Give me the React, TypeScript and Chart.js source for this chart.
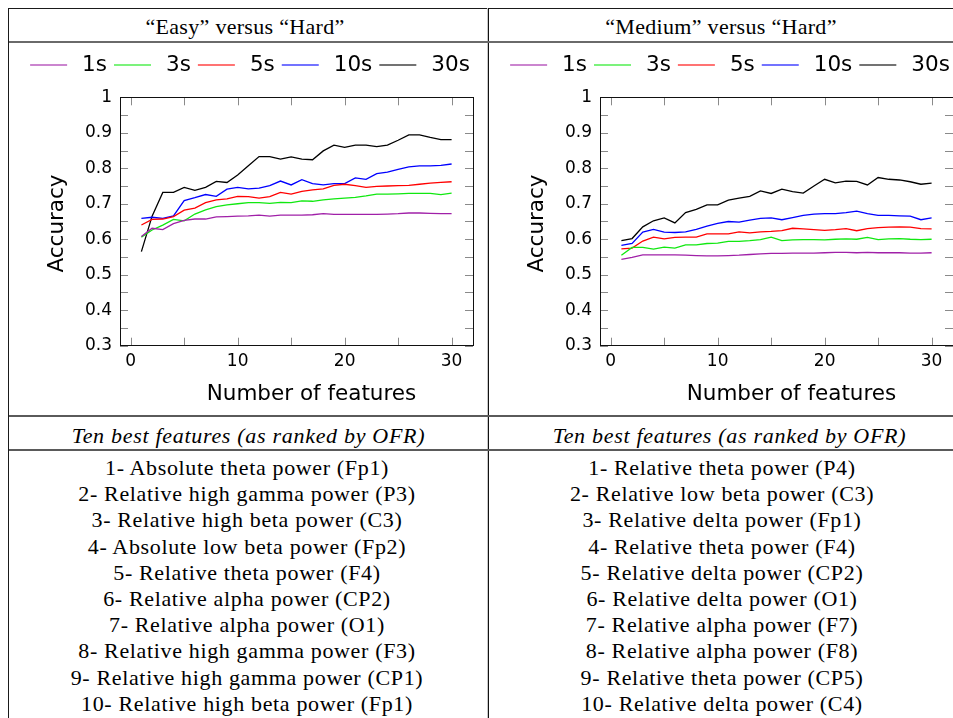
import React, { useEffect, useRef } from "react";
import { Chart, registerables } from "chart.js";

Chart.register(...registerables);

// ---------- data ----------
const FEATURES = [1, 2, 3, 4, 5, 6, 7, 8, 9, 10, 11, 12, 13, 14, 15, 16, 17, 18, 19, 20, 21, 22, 23, 24, 25, 26, 27, 28, 29, 30];
const SERIES_LABELS = ["1s", "3s", "5s", "10s", "30s"];
const SERIES_COLORS = ["#a020a8", "#10e810", "#ff0000", "#0000ff", "#000000"];

// "Easy" versus "Hard"
const EASY_1S = [0.608, 0.631, 0.627, 0.644, 0.653, 0.657, 0.657, 0.663, 0.664, 0.665, 0.666, 0.668, 0.665, 0.668, 0.668, 0.668, 0.669, 0.672, 0.670, 0.670, 0.670, 0.670, 0.670, 0.671, 0.672, 0.674, 0.674, 0.673, 0.672, 0.672];
const EASY_3S = [0.606, 0.626, 0.640, 0.656, 0.652, 0.671, 0.683, 0.692, 0.697, 0.700, 0.703, 0.703, 0.701, 0.704, 0.703, 0.708, 0.707, 0.711, 0.714, 0.716, 0.718, 0.722, 0.727, 0.727, 0.728, 0.729, 0.729, 0.729, 0.726, 0.730];
const EASY_5S = [0.640, 0.656, 0.657, 0.664, 0.682, 0.688, 0.703, 0.711, 0.714, 0.721, 0.720, 0.716, 0.720, 0.732, 0.727, 0.735, 0.739, 0.742, 0.752, 0.755, 0.751, 0.746, 0.749, 0.750, 0.751, 0.752, 0.755, 0.758, 0.760, 0.762];
const EASY_10S = [0.659, 0.662, 0.659, 0.666, 0.709, 0.717, 0.726, 0.721, 0.741, 0.746, 0.742, 0.744, 0.751, 0.764, 0.753, 0.768, 0.757, 0.753, 0.757, 0.757, 0.773, 0.769, 0.785, 0.789, 0.797, 0.804, 0.807, 0.807, 0.808, 0.812];
const EASY_30S = [0.565, 0.665, 0.732, 0.732, 0.746, 0.738, 0.746, 0.763, 0.760, 0.781, 0.807, 0.833, 0.833, 0.826, 0.832, 0.826, 0.824, 0.849, 0.865, 0.859, 0.865, 0.865, 0.861, 0.865, 0.879, 0.894, 0.894, 0.887, 0.881, 0.881];

// "Medium" versus "Hard"
const MEDIUM_1S = [0.543, 0.549, 0.556, 0.556, 0.556, 0.556, 0.555, 0.554, 0.553, 0.553, 0.554, 0.555, 0.557, 0.559, 0.560, 0.560, 0.561, 0.561, 0.561, 0.562, 0.563, 0.563, 0.562, 0.563, 0.562, 0.562, 0.562, 0.561, 0.561, 0.562];
const MEDIUM_3S = [0.555, 0.577, 0.577, 0.572, 0.578, 0.575, 0.584, 0.584, 0.588, 0.589, 0.594, 0.594, 0.596, 0.599, 0.606, 0.596, 0.598, 0.599, 0.599, 0.598, 0.600, 0.601, 0.600, 0.605, 0.599, 0.601, 0.602, 0.600, 0.599, 0.600];
const MEDIUM_5S = [0.573, 0.575, 0.595, 0.606, 0.601, 0.605, 0.606, 0.606, 0.615, 0.615, 0.615, 0.621, 0.618, 0.621, 0.622, 0.624, 0.631, 0.629, 0.627, 0.625, 0.627, 0.630, 0.624, 0.630, 0.633, 0.634, 0.635, 0.634, 0.630, 0.629];
const MEDIUM_10S = [0.583, 0.588, 0.620, 0.628, 0.620, 0.619, 0.621, 0.628, 0.637, 0.645, 0.650, 0.648, 0.654, 0.659, 0.660, 0.655, 0.661, 0.667, 0.671, 0.672, 0.672, 0.675, 0.679, 0.672, 0.667, 0.667, 0.666, 0.665, 0.655, 0.660];
const MEDIUM_30S = [0.596, 0.602, 0.635, 0.652, 0.660, 0.646, 0.675, 0.684, 0.697, 0.697, 0.710, 0.716, 0.721, 0.736, 0.729, 0.741, 0.734, 0.730, 0.750, 0.769, 0.759, 0.764, 0.763, 0.753, 0.774, 0.769, 0.767, 0.762, 0.755, 0.758];

// axes
const X_TICKS = [0, 10, 20, 30];
const X_MINOR_TICKS = [0, 5, 10, 15, 20, 25, 30];
const Y_TICKS = [0.3, 0.4, 0.5, 0.6, 0.7, 0.8, 0.9, 1];
const Y_MINOR_TICKS = [0.3, 0.35, 0.4, 0.45, 0.5, 0.55, 0.6, 0.65, 0.7, 0.75, 0.8, 0.85, 0.9, 0.95, 1];
const X_TITLE = "Number of features";
const Y_TITLE = "Accuracy";

// table text
const LEFT_HEADER = "\u201cEasy\u201d versus \u201cHard\u201d";
const RIGHT_HEADER = "\u201cMedium\u201d versus \u201cHard\u201d";
const SUB_HEADER = "Ten best features (as ranked by OFR)";
const LEFT_FEATURES = [
  "1- Absolute theta power (Fp1)",
  "2- Relative high gamma power (P3)",
  "3- Relative high beta power (C3)",
  "4- Absolute low beta power (Fp2)",
  "5- Relative theta power (F4)",
  "6- Relative alpha power (CP2)",
  "7- Relative alpha power (O1)",
  "8- Relative high gamma power (F3)",
  "9- Relative high gamma power (CP1)",
  "10- Relative high beta power (Fp1)",
];
const RIGHT_FEATURES = [
  "1- Relative theta power (P4)",
  "2- Relative low beta power (C3)",
  "3- Relative delta power (Fp1)",
  "4- Relative theta power (F4)",
  "5- Relative delta power (CP2)",
  "6- Relative delta power (O1)",
  "7- Relative alpha power (F7)",
  "8- Relative alpha power (F8)",
  "9- Relative theta power (CP5)",
  "10- Relative delta power (C4)",
];

const SANS = '"DejaVu Sans", sans-serif';
const SERIF = '"Liberation Serif", serif';

const CANVAS_W = 479;
const CANVAS_H = 373;

const framePlugin = {
  id: "frame",
  beforeDatasetsDraw(chart: any) {
    const { ctx, chartArea: a, scales } = chart;
    const x = scales.x;
    const y = scales.y;
    ctx.save();
    ctx.strokeStyle = "#8a8a8a";
    ctx.lineWidth = 1;
    const L = 8;
    ctx.beginPath();
    for (const v of X_MINOR_TICKS) {
      const px = Math.round(x.getPixelForValue(v)) + 0.5;
      ctx.moveTo(px, a.bottom);
      ctx.lineTo(px, a.bottom - L);
      ctx.moveTo(px, a.top);
      ctx.lineTo(px, a.top + L);
    }
    for (const v of Y_MINOR_TICKS) {
      const py = Math.round(y.getPixelForValue(v)) + 0.5;
      ctx.moveTo(a.left, py);
      ctx.lineTo(a.left + L, py);
      ctx.moveTo(a.right, py);
      ctx.lineTo(a.right - L, py);
    }
    ctx.stroke();
    ctx.restore();
  },
  afterDraw(chart: any) {
    const { ctx, chartArea: a } = chart;
    ctx.save();
    // frame
    ctx.strokeStyle = "#111";
    ctx.lineWidth = 1;
    ctx.strokeRect(Math.round(a.left) + 0.5, Math.round(a.top) + 0.5, Math.round(a.right - a.left), Math.round(a.bottom - a.top));
    // axis titles
    ctx.fillStyle = "#000";
    ctx.font = `21.5px ${SANS}`;
    ctx.textAlign = "center";
    ctx.textBaseline = "middle";
    ctx.fillText(X_TITLE, (a.left + a.right) / 2 + 15, a.bottom + 49);
    ctx.save();
    ctx.translate(a.left - 62.5, (a.top + a.bottom) / 2 + 2);
    ctx.rotate(-Math.PI / 2);
    ctx.fillText(Y_TITLE, 0, 0);
    ctx.restore();
    // legend
    const ds = chart.data.datasets;
    const sample = 37;
    const gap1 = 15;
    const gap2 = 7;
    const widths = ds.map((d: any) => ctx.measureText(d.label).width);
    let total = 0;
    widths.forEach((w: number) => (total += sample + gap1 + w));
    total += gap2 * (ds.length - 1);
    let lx = chart.width / 2 - total / 2 + 1.5;
    const ly = 22;
    ctx.textAlign = "left";
    ds.forEach((d: any, i: number) => {
      ctx.globalAlpha = 0.55;
      ctx.strokeStyle = SERIES_COLORS[i];
      ctx.lineWidth = 2;
      ctx.beginPath();
      ctx.moveTo(lx, ly);
      ctx.lineTo(lx + sample, ly);
      ctx.stroke();
      ctx.globalAlpha = 1;
      ctx.fillStyle = "#000";
      ctx.fillText(d.label, lx + sample + gap1, ly);
      lx += sample + gap1 + widths[i] + gap2;
    });
    ctx.restore();
  },
};

function AccuracyChart({ series, left, top }: { series: number[][]; left: number; top: number }) {
  const ref = useRef<HTMLCanvasElement>(null);
  useEffect(() => {
    const chart = new Chart(ref.current as HTMLCanvasElement, {
      type: "line",
      data: {
        datasets: SERIES_LABELS.map((label, i) => ({
          label,
          data: FEATURES.map((f, j) => ({ x: f, y: series[i][j] })),
          borderColor: SERIES_COLORS[i],
          backgroundColor: SERIES_COLORS[i],
          borderWidth: 1.3,
          pointRadius: 0,
          tension: 0,
          fill: false,
        })),
      },
      options: {
        animation: false,
        responsive: false,
        events: [],
        layout: { padding: { top: 54.3, right: 15, bottom: 0, left: 0 } },
        plugins: { legend: { display: false }, tooltip: { enabled: false } },
        scales: {
          x: {
            type: "linear",
            min: -1,
            max: 32,
            grid: { display: false, drawTicks: false },
            border: { display: false },
            afterBuildTicks: (s: any) => {
              s.ticks = X_TICKS.map((v) => ({ value: v }));
            },
            afterFit: (s: any) => {
              s.height = 70.3;
            },
            ticks: {
              padding: 6,
              autoSkip: false,
              maxRotation: 0,
              color: "#000",
              font: { family: SANS, size: 17 },
              callback: (v: any) => String(v),
            },
          },
          y: {
            type: "linear",
            min: 0.3,
            max: 1,
            grid: { display: false, drawTicks: false },
            border: { display: false },
            afterBuildTicks: (s: any) => {
              s.ticks = Y_TICKS.map((v) => ({ value: v }));
            },
            afterFit: (s: any) => {
              s.width = 111;
            },
            ticks: {
              padding: 8,
              autoSkip: false,
              color: "#000",
              font: { family: SANS, size: 17 },
              callback: (v: any) => Number(v).toFixed(1).replace(/\.0$/, ""),
            },
          },
        },
      } as any,
      plugins: [framePlugin],
    });
    return () => chart.destroy();
  }, []);
  return (
    <canvas
      ref={ref}
      width={CANVAS_W}
      height={CANVAS_H}
      style={{ position: "absolute", left, top, width: CANVAS_W, height: CANVAS_H }}
    />
  );
}

const line = (style: React.CSSProperties): React.CSSProperties => ({ position: "absolute", ...style });

function TextLine({ text, center, top, italic, spacing }: { text: string; center: number; top: number; italic?: boolean; spacing?: number }) {
  const w = 470;
  return (
    <div
      style={{
        position: "absolute",
        left: center - w / 2,
        width: w,
        top,
        height: 26.2,
        lineHeight: "26.2px",
        textAlign: "center",
        whiteSpace: "pre",
        fontFamily: SERIF,
        fontSize: 22,
        letterSpacing: `${spacing ?? 0.65}px`,
        fontStyle: italic ? "italic" : "normal",
        color: "#000",
      }}
    >
      {text}
    </div>
  );
}

export default function App() {
  const LIST_TOP = 455;
  const STEP = 26.2;
  return (
    <div style={{ position: "fixed", left: 0, top: 0, width: 953, height: 718, overflow: "hidden", background: "#fff" }}>
      {/* table rules */}
      <div style={line({ left: 8, top: 8, width: 960, height: 1, background: "#1a1a1a" })} />
      <div style={line({ left: 8, top: 8, width: 1, height: 720, background: "#1a1a1a" })} />
      <div style={line({ left: 488, top: 8, width: 1, height: 720, background: "#111" })} />
      <div style={line({ left: 487, top: 8, width: 1, height: 720, background: "#c8c8c8" })} />
      <div style={line({ left: 9, top: 41, width: 960, height: 2, background: "#6a6a6a" })} />
      <div style={line({ left: 9, top: 415, width: 960, height: 2, background: "#5a5a5a" })} />
      <div style={line({ left: 9, top: 449, width: 960, height: 2, background: "#5a5a5a" })} />

      {/* headers */}
      <TextLine text={LEFT_HEADER} center={245} top={13.8} spacing={0.3} />
      <TextLine text={RIGHT_HEADER} center={721} top={13.8} spacing={0.3} />

      {/* charts */}
      <AccuracyChart series={[EASY_1S, EASY_3S, EASY_5S, EASY_10S, EASY_30S]} left={9} top={43} />
      <AccuracyChart series={[MEDIUM_1S, MEDIUM_3S, MEDIUM_5S, MEDIUM_10S, MEDIUM_30S]} left={489} top={43} />

      {/* sub headers */}
      <TextLine text={SUB_HEADER} center={248.5} top={422.5} italic spacing={0.7} />
      <TextLine text={SUB_HEADER} center={729.5} top={422.5} italic spacing={0.7} />

      {/* feature lists */}
      {LEFT_FEATURES.map((t, i) => (
        <TextLine key={"l" + i} text={t} center={247} top={LIST_TOP + i * STEP} />
      ))}
      {RIGHT_FEATURES.map((t, i) => (
        <TextLine key={"r" + i} text={t} center={722} top={LIST_TOP + i * STEP} />
      ))}
    </div>
  );
}
